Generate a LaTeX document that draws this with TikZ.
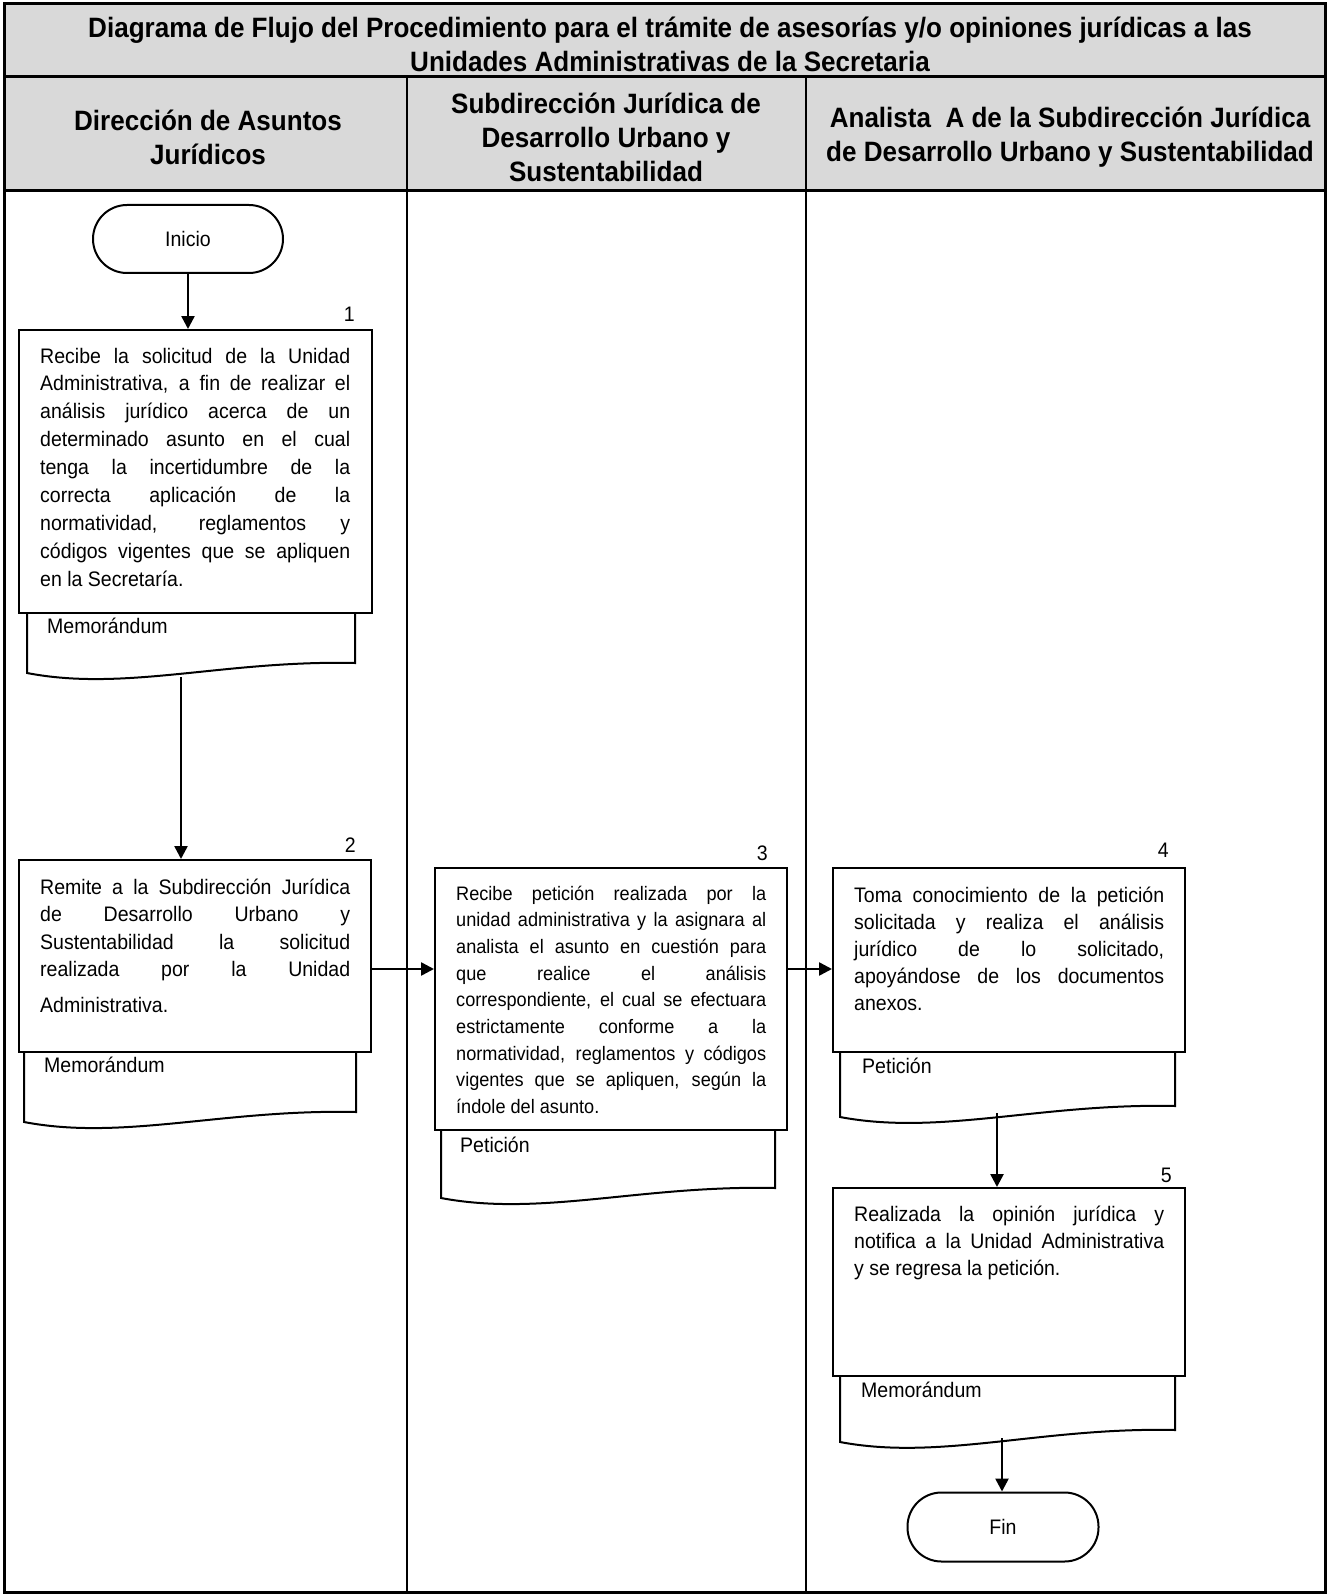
\documentclass[tikz,border=0pt]{standalone}
\usepackage{fontspec}
\setmainfont[FakeStretch=0.93]{Liberation Sans}
\usetikzlibrary{arrows.meta}
% justified line of a step description, and the ragged last line
\newcommand\jl[1]{\hbox to \hsize{#1}}
\newcommand\lastln[1]{\hbox{#1}}
% document symbol: left, right, top, bottom-left y, bottom-right y
\newcommand\docsym[5]{%
  \draw[docline] (#1,#3) -- (#1,#4)
    .. controls ({#1+0.3*(#2-#1)},{#4+19}) and ({#1+0.6*(#2-#1)},{#5-3}) .. (#2,#5)
    -- (#2,#3);}
\begin{document}
\begin{tikzpicture}[x=1pt,y=-1pt,
  frame/.style={line width=3pt},
  lane/.style={line width=2.5pt},
  procbox/.style={draw, line width=2pt, fill=white, inner sep=0pt},
  docline/.style={draw, line width=2pt, fill=white},
  term/.style={draw, line width=2pt, fill=white, rounded corners=34pt, inner sep=0pt,
    font=\fontsize{21}{26}\selectfont},
  txt/.style={inner sep=0pt, anchor=base west},
  bigtxt/.style={txt, font=\fontsize{21}{27.9}\selectfont},
  smalltxt/.style={txt, font=\fontsize{19.5}{26.7}\selectfont},
  stepnum/.style={inner sep=0pt, anchor=base east, font=\fontsize{21}{26}\selectfont},
  head/.style={inner sep=0pt, align=center, font=\bfseries\fontsize{28}{34}\selectfont},
  arr/.style={line width=2.5pt, -{Triangle[length=13pt,width=13pt]}}
]
\useasboundingbox (0,0) rectangle (1328,1594);

% title and lane header rows
\fill[gray!30] (4,4) rectangle (1325,191);
\draw[frame] (4,4) rectangle (1325,1592);
\draw[frame] (4,77) -- (1325,77);
\draw[frame] (4,191) -- (1325,191);
\draw[lane] (407,77) -- (407,1592);
\draw[lane] (806,77) -- (806,1592);

\node[head] (title) at (670,44)
  {Diagrama de Flujo del Procedimiento para el trámite de asesorías y/o opiniones jurídicas a las\\
   Unidades Administrativas de la Secretaria};
\node[head] (h1) at (208,137) {Dirección de Asuntos\\Jurídicos};
\node[head] (h2) at (606,137) {Subdirección Jurídica de\\Desarrollo Urbano y\\Sustentabilidad};
\node[head] (h3) at (1070,137) {Analista\ \ A de la Subdirección Jurídica\\de Desarrollo Urbano y Sustentabilidad};

% start terminal
\node[term, minimum width=190pt, minimum height=68pt] (inicio) at (188,239) {Inicio};

% document symbols behind the step boxes
\docsym{27}{355}{600}{673}{663}
\docsym{24}{356}{1040}{1122}{1112}
\docsym{441}{775}{1120}{1198}{1188}
\docsym{840}{1175}{1040}{1117}{1106}
\docsym{840}{1175}{1360}{1442}{1430}

% step boxes
\node[procbox, minimum width=353pt, minimum height=283pt] (b1) at (195.5,471.5) {};
\node[procbox, minimum width=352pt, minimum height=192pt] (b2) at (195,956) {};
\node[procbox, minimum width=352pt, minimum height=262pt] (b3) at (611,999) {};
\node[procbox, minimum width=352pt, minimum height=184pt] (b4) at (1009,960) {};
\node[procbox, minimum width=352pt, minimum height=188pt] (b5) at (1009,1282) {};

% step numbers
\node[stepnum] (n1) at (355,322) {1};
\node[stepnum] (n2) at (356,852) {2};
\node[stepnum] (n3) at (768,860) {3};
\node[stepnum] (n4) at (1169,857) {4};
\node[stepnum] (n5) at (1172,1182) {5};

% step descriptions
\node[bigtxt] (t1) at (40,363) {\vtop{\hsize=310pt
  \jl{Recibe la solicitud de la Unidad}
  \jl{Administrativa, a fin de realizar el}
  \jl{análisis jurídico acerca de un}
  \jl{determinado asunto en el cual}
  \jl{tenga la incertidumbre de la}
  \jl{correcta aplicación de la}
  \jl{normatividad, reglamentos y}
  \jl{códigos vigentes que se apliquen}
  \lastln{en la Secretaría.}}};
\node[bigtxt, font=\fontsize{21}{27.5}\selectfont] (t2) at (40,894) {\vtop{\hsize=310pt
  \jl{Remite a la Subdirección Jurídica}
  \jl{de Desarrollo Urbano y}
  \jl{Sustentabilidad la solicitud}
  \jl{realizada por la Unidad}
  \lastln{\rule{0pt}{30.5pt}Administrativa.}}};
\node[smalltxt] (t3) at (456,900) {\vtop{\hsize=310pt
  \jl{Recibe petición realizada por la}
  \jl{unidad administrativa y la asignara al}
  \jl{analista el asunto en cuestión para}
  \jl{que realice el análisis}
  \jl{correspondiente, el cual se efectuara}
  \jl{estrictamente conforme a la}
  \jl{normatividad, reglamentos y códigos}
  \jl{vigentes que se apliquen, según la}
  \lastln{índole del asunto.}}};
\node[bigtxt, font=\fontsize{21}{27}\selectfont] (t4) at (854,902) {\vtop{\hsize=310pt
  \jl{Toma conocimiento de la petición}
  \jl{solicitada y realiza el análisis}
  \jl{jurídico de lo solicitado,}
  \jl{apoyándose de los documentos}
  \lastln{anexos.}}};
\node[bigtxt, font=\fontsize{21}{27.3}\selectfont] (t5) at (854,1221) {\vtop{\hsize=310pt
  \jl{Realizada la opinión jurídica y}
  \jl{notifica a la Unidad Administrativa}
  \lastln{y se regresa la petición.}}};

% document labels
\node[bigtxt] (d1) at (47,633) {Memorándum};
\node[bigtxt] (d2) at (44,1072) {Memorándum};
\node[bigtxt] (d3) at (460,1152) {Petición};
\node[bigtxt] (d4) at (862,1073) {Petición};
\node[bigtxt] (d5) at (861,1397) {Memorándum};

% end terminal
\node[term, minimum width=191pt, minimum height=69pt] (fin) at (1003,1527) {Fin};

% connectors
\coordinate (o1) at (181,677);
\coordinate (o4) at (997,1113);
\coordinate (o5) at (1002,1438);
\coordinate (r34) at (0,969);
\draw[arr] (inicio.south) -- (inicio.south |- b1.north);
\draw[arr] (o1) -- (o1 |- b2.north);
\draw[arr] (b2.east |- r34) -- (b3.west |- r34);
\draw[arr] (b3.east |- r34) -- (b4.west |- r34);
\draw[arr] (o4) -- (o4 |- b5.north);
\draw[arr] (o5) -- (o5 |- fin.north);
\end{tikzpicture}
\end{document}
